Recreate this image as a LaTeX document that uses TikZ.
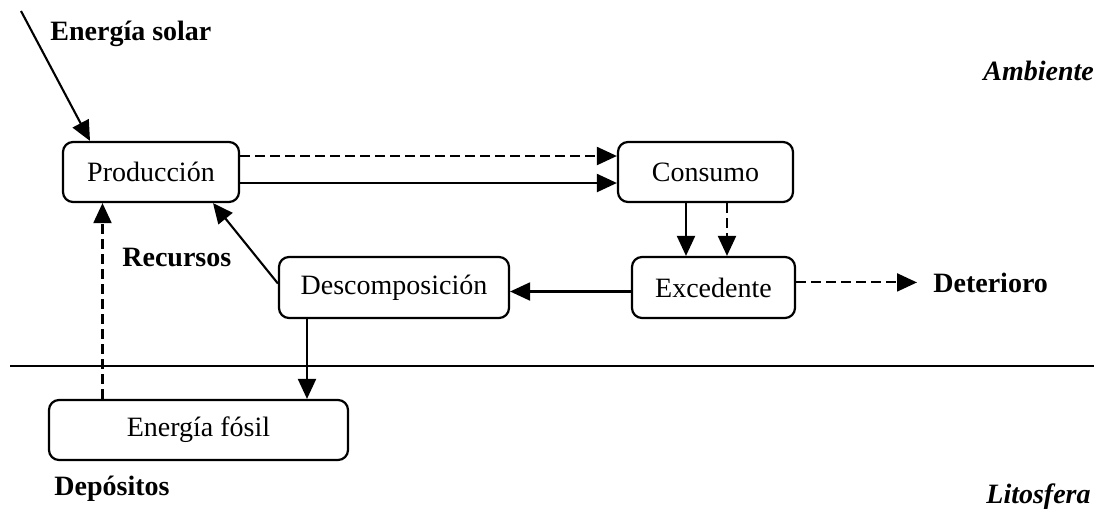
\documentclass[tikz,border=0pt]{standalone}
\usepackage{fontspec}
\setmainfont{Liberation Serif}
\usetikzlibrary{arrows.meta}
\begin{document}
\begin{tikzpicture}[x=0.5pt,y=-0.5pt,
  box/.style={draw,line width=1.1pt,rounded corners=5pt,inner sep=0pt,font=\fontsize{14pt}{16pt}\selectfont},
  lbl/.style={inner sep=0pt,anchor=base west,font=\fontsize{14pt}{16pt}\selectfont\bfseries},
  conn/.style={line width=1.05pt,-{Triangle[length=10pt,width=9pt]}},
  dsh/.style={dash pattern=on 5pt off 2.5pt}]
\useasboundingbox (0,0) rectangle (1094,511);
% boxes
\node[box,minimum width=88pt,minimum height=30pt] (prod) at (151,172) {Producción};
\node[box,minimum width=87.5pt,minimum height=30pt] (cons) at (705.5,172) {Consumo};
\node[box,minimum width=81.5pt,minimum height=30.5pt] (exc) at (713.5,287.5) {Excedente};
\node[box,minimum width=115pt,minimum height=30.5pt] (desc) at (394,287.5) {Descomposición};
\node[box,minimum width=149.5pt,minimum height=30pt] (fos) at (198.5,430) {Energía fósil};
% labels
\node[lbl] (solar) at (50,40) {Energía solar};
\node[lbl,font=\fontsize{14pt}{16pt}\selectfont\bfseries\itshape] (amb) at (983,80) {Ambiente};
\node[lbl] (rec) at (122,266) {Recursos};
\node[lbl] (det) at (933,292) {Deterioro};
\node[lbl] (dep) at (54,495) {Depósitos};
\node[lbl,font=\fontsize{14pt}{16pt}\selectfont\bfseries\itshape] (lit) at (986,503) {Litosfera};
% horizontal divider
\coordinate (hl) at (10,366);
\coordinate (hr) at (1094,366);
\draw[line width=1pt] (hl) -- (hr);
% solar arrow
\coordinate (sun) at (21,11);
\draw[conn] (sun) -- ([xshift=-30.5pt]prod.north);
% production to consumption
\draw[conn,dsh] ([yshift=8pt]prod.east) -- ([yshift=8pt]cons.west);
\draw[conn] ([yshift=-5.5pt]prod.east) -- ([yshift=-5.5pt]cons.west);
% consumption to surplus
\draw[conn] ([xshift=-9.75pt]cons.south) -- ([xshift=-9.75pt]cons.south |- exc.north);
\draw[conn,dsh] ([xshift=10.75pt]cons.south) -- ([xshift=10.75pt]cons.south |- exc.north);
% surplus to decomposition
\draw[conn] ([yshift=-2pt]exc.west) -- ([yshift=-2pt]desc.east);
% surplus to deterioration
\coordinate (dt) at ([xshift=-8pt]det.west);
\draw[conn,dsh] (exc.east |- dt) -- (dt);
% decomposition to production
\draw[conn] ([yshift=2pt]desc.west) -- ([xshift=31pt]prod.south);
% decomposition to fossil
\draw[conn] ([xshift=-43.5pt]desc.south) -- ([xshift=-43.5pt]desc.south |- fos.north);
% fossil to production
\draw[conn,dsh] ([xshift=-48pt]fos.north) -- ([xshift=-48pt]fos.north |- prod.south);
\end{tikzpicture}
\end{document}
